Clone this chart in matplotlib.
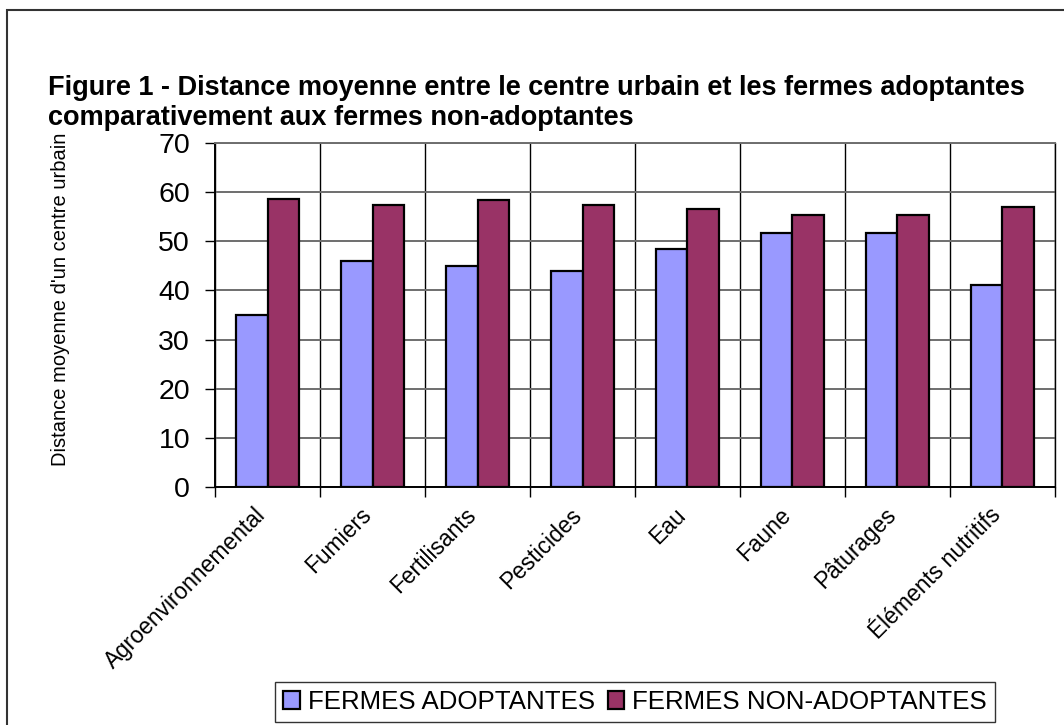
import numpy as np
import matplotlib
matplotlib.use("Agg")
import matplotlib.pyplot as plt
import matplotlib.transforms as mtrans
from matplotlib.patches import Rectangle

plt.rcParams['font.family'] = ['Liberation Sans', 'DejaVu Sans']

# data
categories = ['Agroenvironnemental', 'Fumiers', 'Fertilisants', 'Pesticides',
              'Eau', 'Faune', 'Pâturages', 'Éléments nutritifs']
adoptantes = [35.0, 46.0, 44.9, 44.0, 48.5, 51.7, 51.7, 41.1]
non_adoptantes = [58.6, 57.4, 58.3, 57.4, 56.6, 55.4, 55.4, 57.0]
series_names = ['FERMES ADOPTANTES', 'FERMES NON-ADOPTANTES']
yticks = [0, 10, 20, 30, 40, 50, 60, 70]

BLUE = '#9999FF'
PLUM = '#993366'

fig = plt.figure(figsize=(10.64, 7.25), dpi=100)
ax = fig.add_axes([0.2021, 0.3283, 0.7894, 0.4745])

# outer chart border (cropped on right and bottom like the reference)
fig.patches.append(Rectangle((7 / 1064, -0.05), 1.2, 1 - 10 / 725 + 0.05,
                             transform=fig.transFigure, fill=False,
                             edgecolor='#333333', lw=1.5))

x = np.arange(len(categories))
w = 0.3
b1 = ax.bar(x - w / 2, adoptantes, w, color=BLUE, edgecolor='black', lw=1.6,
            label=series_names[0], zorder=3)
b2 = ax.bar(x + w / 2, non_adoptantes, w, color=PLUM, edgecolor='black', lw=1.6,
            label=series_names[1], zorder=3)

ax.set_xlim(-0.5, len(categories) - 0.5)
ax.set_ylim(0, 70)
ax.set_yticks(yticks)
ax.tick_params(axis='y', labelsize=20.5, length=7, width=1, direction='out', pad=11)

# category boundaries -> vertical grid + tick marks
ax.set_xticks(np.arange(-0.5, len(categories)), minor=True)
ax.set_xticks(x)
ax.set_xticklabels(categories, rotation=45, ha='right', rotation_mode='anchor',
                   fontsize=16.4)
ax.tick_params(axis='x', which='major', length=0, pad=9)
ax.tick_params(axis='x', which='minor', length=7, width=1, direction='out')
shift = mtrans.ScaledTranslation(-13 / 100, -4 / 100, fig.dpi_scale_trans)
for lbl in ax.get_xticklabels():
    lbl.set_transform(lbl.get_transform() + shift)

ax.grid(axis='y', color='#6e6e6e', lw=1.4, zorder=0)
ax.grid(axis='x', which='minor', color='black', lw=1.0, zorder=0)
ax.set_axisbelow(True)

for s in ['left', 'bottom']:
    ax.spines[s].set_color('black')
    ax.spines[s].set_linewidth(1.4)
ax.spines['top'].set_color('#6e6e6e')
ax.spines['top'].set_linewidth(1.4)
ax.spines['right'].set_color('black')
ax.spines['right'].set_linewidth(1.0)

fig.text(61 / 1064, 1 - 299 / 725, "Distance moyenne d'un centre urbain",
         fontsize=14.5, rotation=90, ha='center', va='center')

fig.text(48 / 1064, 1 - 88 / 725,
         'Figure 1 - Distance moyenne entre le centre urbain et les fermes adoptantes',
         fontsize=19.5, fontweight='bold', va='center', ha='left')
fig.text(48 / 1064, 1 - 118 / 725, 'comparativement aux fermes non-adoptantes',
         fontsize=19.5, fontweight='bold', va='center', ha='left')

leg = fig.legend(handles=[b1, b2], loc='center', bbox_to_anchor=(635 / 1064, 1 - 702 / 725),
                 ncol=2, fontsize=18.6, frameon=True, fancybox=False,
                 edgecolor='black', handlelength=0.65, handleheight=0.65,
                 handletextpad=0.3, columnspacing=0.5, borderpad=0.3,
                 borderaxespad=0)
leg.get_frame().set_linewidth(1.0)

fig.savefig('out.png', dpi=100)
